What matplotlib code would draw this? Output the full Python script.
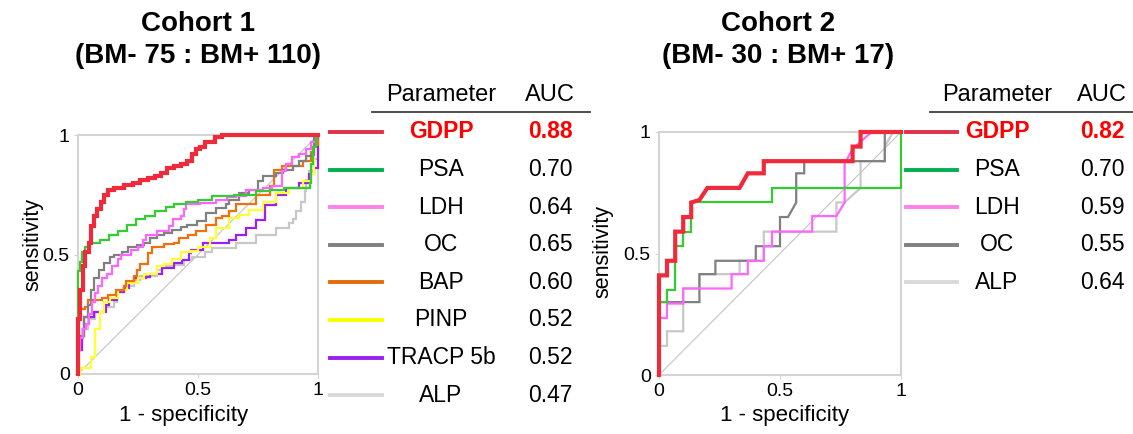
"""
ROC curves of GDPP and other bone markers for two cohorts (BM- vs BM+).
"""

import matplotlib.pyplot as plt
from matplotlib.lines import Line2D

plt.rcParams["font.family"] = ["Liberation Sans", "DejaVu Sans"]

W, H = 1133, 434

# =====================================================================
# 1. DATA
# =====================================================================
# Cohort 1: step corners (x = 1 - specificity, y = sensitivity), drawn with steps-post
c1_names = ["GDPP", "PSA", "LDH", "OC", "BAP", "PINP", "TRACP 5b", "ALP"]
c1_auc = ["0.88", "0.70", "0.64", "0.65", "0.60", "0.52", "0.52", "0.47"]

c1_gdpp_x = [0, 0, 0.01, 0.02, 0.03, 0.045, 0.055, 0.065, 0.08, 0.095, 0.11, 0.125, 0.15, 0.19, 0.23,
             0.26, 0.29, 0.32, 0.345, 0.37, 0.40, 0.43, 0.455, 0.475, 0.49, 0.51, 0.53, 0.57, 0.60, 1.0]
c1_gdpp_y = [0, 0.23, 0.35, 0.45, 0.51, 0.55, 0.62, 0.66, 0.69, 0.72, 0.75, 0.77, 0.78, 0.79, 0.80,
             0.81, 0.82, 0.83, 0.84, 0.86, 0.87, 0.88, 0.89, 0.92, 0.94, 0.95, 0.97, 0.99, 1.0, 1.0]

c1_psa_x = [0, 0, 0.01, 0.015, 0.03, 0.05, 0.09, 0.13, 0.165, 0.205, 0.24, 0.28, 0.32, 0.365, 0.40,
            0.45, 0.50, 0.56, 0.65, 0.74, 0.80, 0.86, 0.965, 0.97, 0.98, 0.99, 1.0]
c1_psa_y = [0, 0.43, 0.47, 0.51, 0.53, 0.55, 0.56, 0.58, 0.60, 0.625, 0.65, 0.66, 0.68, 0.70, 0.71,
            0.72, 0.73, 0.745, 0.75, 0.765, 0.77, 0.78, 0.80, 0.88, 0.95, 1.0, 1.0]

c1_ldh_x = [0, 0, 0.01, 0.02, 0.035, 0.045, 0.06, 0.07, 0.085, 0.10, 0.12, 0.14, 0.165, 0.18, 0.22,
            0.25, 0.27, 0.285, 0.33, 0.38, 0.395, 0.43, 0.44, 0.45, 0.51, 0.575, 0.62, 0.66, 0.70,
            0.77, 0.81, 0.85, 0.865, 0.89, 0.92, 0.95, 0.97, 0.99, 1.0]
c1_ldh_y = [0, 0.10, 0.15, 0.19, 0.21, 0.25, 0.30, 0.34, 0.37, 0.40, 0.42, 0.45, 0.48, 0.50, 0.52,
            0.53, 0.56, 0.58, 0.60, 0.62, 0.65, 0.66, 0.69, 0.71, 0.715, 0.73, 0.74, 0.745, 0.77,
            0.78, 0.785, 0.85, 0.88, 0.91, 0.92, 0.94, 0.97, 1.0, 1.0]

c1_oc_x = [0, 0, 0.01, 0.025, 0.04, 0.055, 0.067, 0.087, 0.11, 0.135, 0.15, 0.185, 0.21, 0.247, 0.275,
           0.30, 0.33, 0.36, 0.39, 0.43, 0.456, 0.497, 0.533, 0.575, 0.617, 0.63, 0.672, 0.714, 0.749,
           0.77, 0.825, 0.853, 0.894, 0.922, 0.95, 0.971, 0.985, 1.0]
c1_oc_y = [0, 0.10, 0.16, 0.24, 0.29, 0.35, 0.40, 0.435, 0.463, 0.49, 0.50, 0.51, 0.53, 0.54, 0.55,
           0.567, 0.583, 0.59, 0.603, 0.615, 0.625, 0.64, 0.674, 0.695, 0.71, 0.73, 0.757, 0.771, 0.806,
           0.827, 0.841, 0.855, 0.869, 0.89, 0.911, 0.918, 0.987, 1.0]

c1_bap_x = [0, 0, 0.005, 0.03, 0.04, 0.10, 0.125, 0.16, 0.19, 0.20, 0.235, 0.247, 0.26, 0.29, 0.31,
            0.36, 0.40, 0.42, 0.46, 0.49, 0.535, 0.575, 0.60, 0.63, 0.66, 0.74, 0.80, 0.815, 0.85,
            0.936, 0.97, 0.985, 1.0]
c1_bap_y = [0, 0.22, 0.27, 0.28, 0.31, 0.32, 0.33, 0.35, 0.37, 0.39, 0.41, 0.435, 0.46, 0.505, 0.53,
            0.545, 0.55, 0.57, 0.583, 0.597, 0.625, 0.653, 0.66, 0.68, 0.71, 0.75, 0.785, 0.855, 0.872,
            0.89, 0.93, 0.96, 1.0]

c1_pinp_x = [0, 0.01, 0.055, 0.07, 0.09, 0.11, 0.135, 0.165, 0.205, 0.25, 0.275, 0.33, 0.36, 0.39,
             0.43, 0.47, 0.50, 0.55, 0.575, 0.63, 0.67, 0.714, 0.77, 0.825, 0.88, 0.936, 0.97, 0.985, 1.0]
c1_pinp_y = [0, 0.025, 0.07, 0.19, 0.26, 0.30, 0.32, 0.35, 0.38, 0.40, 0.42, 0.45, 0.46, 0.48,
             0.51, 0.515, 0.53, 0.57, 0.61, 0.653, 0.667, 0.687, 0.72, 0.757, 0.778, 0.806, 0.835, 0.99, 1.0]

c1_tracp_x = [0, 0, 0.018, 0.025, 0.067, 0.115, 0.13, 0.164, 0.192, 0.212, 0.233, 0.282, 0.30, 0.35,
              0.40, 0.435, 0.462, 0.47, 0.52, 0.63, 0.66, 0.70, 0.74, 0.78, 0.825, 0.866, 0.92, 0.964,
              0.985, 1.0]
c1_tracp_y = [0, 0.10, 0.16, 0.24, 0.26, 0.29, 0.31, 0.345, 0.36, 0.386, 0.40, 0.407, 0.42, 0.442,
              0.463, 0.477, 0.505, 0.52, 0.55, 0.56, 0.58, 0.61, 0.646, 0.708, 0.75, 0.78, 0.80, 0.835,
              0.86, 1.0]

c1_alp_x = [0, 0, 0.004, 0.018, 0.04, 0.07, 0.11, 0.15, 0.164, 0.19, 0.233, 0.26, 0.33, 0.35, 0.40,
            0.44, 0.476, 0.53, 0.56, 0.66, 0.74, 0.825, 0.88, 0.894, 0.908, 0.93, 0.944, 0.95, 0.964,
            0.985, 1.0]
c1_alp_y = [0, 0.12, 0.16, 0.19, 0.23, 0.26, 0.28, 0.30, 0.345, 0.37, 0.393, 0.41, 0.435, 0.45, 0.456,
            0.477, 0.49, 0.51, 0.526, 0.55, 0.583, 0.61, 0.63, 0.65, 0.68, 0.72, 0.765, 0.81, 0.85,
            0.90, 1.0]

# Cohort 2: polyline vertices as drawn
c2_names = ["GDPP", "PSA", "LDH", "OC", "ALP"]
c2_auc = ["0.82", "0.70", "0.59", "0.55", "0.64"]

c2_gdpp_x = [0, 0, 0.033, 0.033, 0.067, 0.067, 0.10, 0.10, 0.133, 0.133, 0.167, 0.20, 0.333, 0.367,
             0.433, 0.433, 0.80, 0.80, 0.833, 0.833, 1.0]
c2_gdpp_y = [0, 0.41, 0.41, 0.47, 0.47, 0.59, 0.59, 0.65, 0.65, 0.71, 0.72, 0.77, 0.77, 0.83,
             0.83, 0.88, 0.88, 0.94, 0.94, 1.0, 1.0]

c2_psa_x = [0, 0, 0.033, 0.033, 0.067, 0.067, 0.10, 0.10, 0.133, 0.133, 0.467, 0.467, 1.0, 1.0]
c2_psa_y = [0, 0.30, 0.30, 0.35, 0.35, 0.53, 0.53, 0.59, 0.59, 0.71, 0.71, 0.77, 0.77, 1.0]

c2_ldh_x = [0, 0, 0.033, 0.033, 0.10, 0.10, 0.30, 0.30, 0.367, 0.367, 0.433, 0.433, 0.467, 0.467,
            0.633, 0.633, 0.733, 0.767, 0.767, 0.80, 0.833, 0.867, 0.883, 1.0]
c2_ldh_y = [0, 0.235, 0.235, 0.294, 0.294, 0.356, 0.356, 0.415, 0.415, 0.47, 0.47, 0.53, 0.53, 0.59,
            0.59, 0.654, 0.654, 0.71, 0.87, 0.93, 0.96, 0.99, 1.0, 1.0]

c2_oc_x = [0, 0, 0.167, 0.167, 0.233, 0.233, 0.40, 0.40, 0.50, 0.50, 0.533, 0.567, 0.567, 0.60, 0.60,
           0.933, 0.933, 1.0]
c2_oc_y = [0, 0.30, 0.30, 0.415, 0.415, 0.47, 0.47, 0.53, 0.53, 0.65, 0.65, 0.71, 0.83, 0.83, 0.88,
           0.88, 1.0, 1.0]

c2_alp_x = [0, 0, 0.033, 0.033, 0.10, 0.10, 0.167, 0.167, 0.333, 0.333, 0.433, 0.433, 0.733, 0.733,
            0.767, 0.833, 0.833, 0.933, 0.933, 0.967, 1.0]
c2_alp_y = [0, 0.12, 0.12, 0.18, 0.18, 0.356, 0.356, 0.415, 0.415, 0.47, 0.47, 0.59, 0.59, 0.71,
            0.71, 0.77, 0.88, 0.88, 0.94, 1.0, 1.0]

# =====================================================================
# 2. STYLES
# =====================================================================
line_colors = {"GDPP": "#ee2a3b", "PSA": "#33cc33", "LDH": "#ff66ff", "OC": "#808080",
               "BAP": "#f07010", "PINP": "#ffff33", "TRACP 5b": "#9b1ff0", "ALP": "#c8c8c8"}
key_colors = {"GDPP": "#e0304a", "PSA": "#00b050", "LDH": "#ff80e8", "OC": "#808080",
              "BAP": "#e36c0a", "PINP": "#ffff00", "TRACP 5b": "#9b1ff0", "ALP": "#d9d9d9"}
frame_color = "#d4d4d4"

c1_curves = [(c1_gdpp_x, c1_gdpp_y), (c1_psa_x, c1_psa_y), (c1_ldh_x, c1_ldh_y), (c1_oc_x, c1_oc_y),
             (c1_bap_x, c1_bap_y), (c1_pinp_x, c1_pinp_y), (c1_tracp_x, c1_tracp_y), (c1_alp_x, c1_alp_y)]
c2_curves = [(c2_gdpp_x, c2_gdpp_y), (c2_psa_x, c2_psa_y), (c2_ldh_x, c2_ldh_y), (c2_oc_x, c2_oc_y),
             (c2_alp_x, c2_alp_y)]

fig = plt.figure(figsize=(W / 100, H / 100), dpi=100)


def fx(px):
    return px / W


def fy(py):
    return 1 - py / H


def roc_panel(rect, names, curves, drawstyle, xlabel_pos, ylabel_pos):
    ax = fig.add_axes(rect)
    ax.plot([0, 1], [0, 1], color="#c4c4c4", lw=0.8, zorder=1)
    # draw in reverse so that GDPP sits on top
    for name, (xs, ys) in reversed(list(zip(names, curves))):
        lw = 3.0 if name == "GDPP" else 1.6
        ax.plot(xs, ys, color=line_colors[name], lw=lw, drawstyle=drawstyle,
                solid_joinstyle="miter", zorder=3, clip_on=False)
    ax.set_xlim(0, 1)
    ax.set_ylim(0, 1)
    ax.set_xticks([0, 0.5, 1])
    ax.set_xticklabels(["0", "0.5", "1"])
    ax.set_yticks([0, 0.5, 1])
    ax.set_yticklabels(["0", "0.5", "1"])
    ax.tick_params(labelsize=14, length=3, color=frame_color, pad=3)
    for sp in ax.spines.values():
        sp.set_color(frame_color)
        sp.set_linewidth(1.5)
    ax.set_xlabel("1 - specificity", fontsize=16)
    ax.set_ylabel("sensitivity", fontsize=15.5)
    ax.xaxis.set_label_coords(*xlabel_pos)
    ax.yaxis.set_label_coords(*ylabel_pos)
    return ax


def key_table(names, aucs, x_line, x_name, x_auc, x_rule):
    fig.text(fx(x_name), fy(95), "Parameter", fontsize=17, ha="center", va="center")
    fig.text(fx(x_auc), fy(95), "AUC", fontsize=17, ha="center", va="center")
    fig.add_artist(Line2D([fx(x_rule[0]), fx(x_rule[1])], [fy(112), fy(112)],
                          color="#404040", lw=1.3, transform=fig.transFigure))
    for i, (name, auc) in enumerate(zip(names, aucs)):
        y = 132 + i * 37.6
        fig.add_artist(Line2D([fx(x_line[0]), fx(x_line[1])], [fy(y), fy(y)],
                              color=key_colors[name], lw=2.8, transform=fig.transFigure))
        top = i == 0
        style = dict(fontsize=16.5, ha="center", va="center",
                     color="#ff0000" if top else "black", fontweight="bold" if top else "normal")
        fig.text(fx(x_name), fy(y), name, **style)
        fig.text(fx(x_auc), fy(y), auc, **style)


# =====================================================================
# 3. PANELS
# =====================================================================
roc_panel([fx(78), fy(374), 240 / W, 239 / H], c1_names, c1_curves, "steps-post",
          (0.44, -0.13), (-0.145, 0.54))
roc_panel([fx(659), fy(375), 242 / W, 243 / H], c2_names, c2_curves, "default",
          (0.517, -0.125), (-0.19, 0.51))

fig.text(fx(198), fy(40), "Cohort 1\n(BM- 75 : BM+ 110)", fontsize=20, fontweight="bold",
         ha="center", va="center", linespacing=1.3)
fig.text(fx(778), fy(40), "Cohort 2\n(BM- 30 : BM+ 17)", fontsize=20, fontweight="bold",
         ha="center", va="center", linespacing=1.3)

key_table(c1_names, c1_auc, (330, 382), 441, 550, (372, 590))
key_table(c2_names, c2_auc, (906, 957), 997, 1102, (930, 1133))

fig.savefig("out.png", dpi=100)
